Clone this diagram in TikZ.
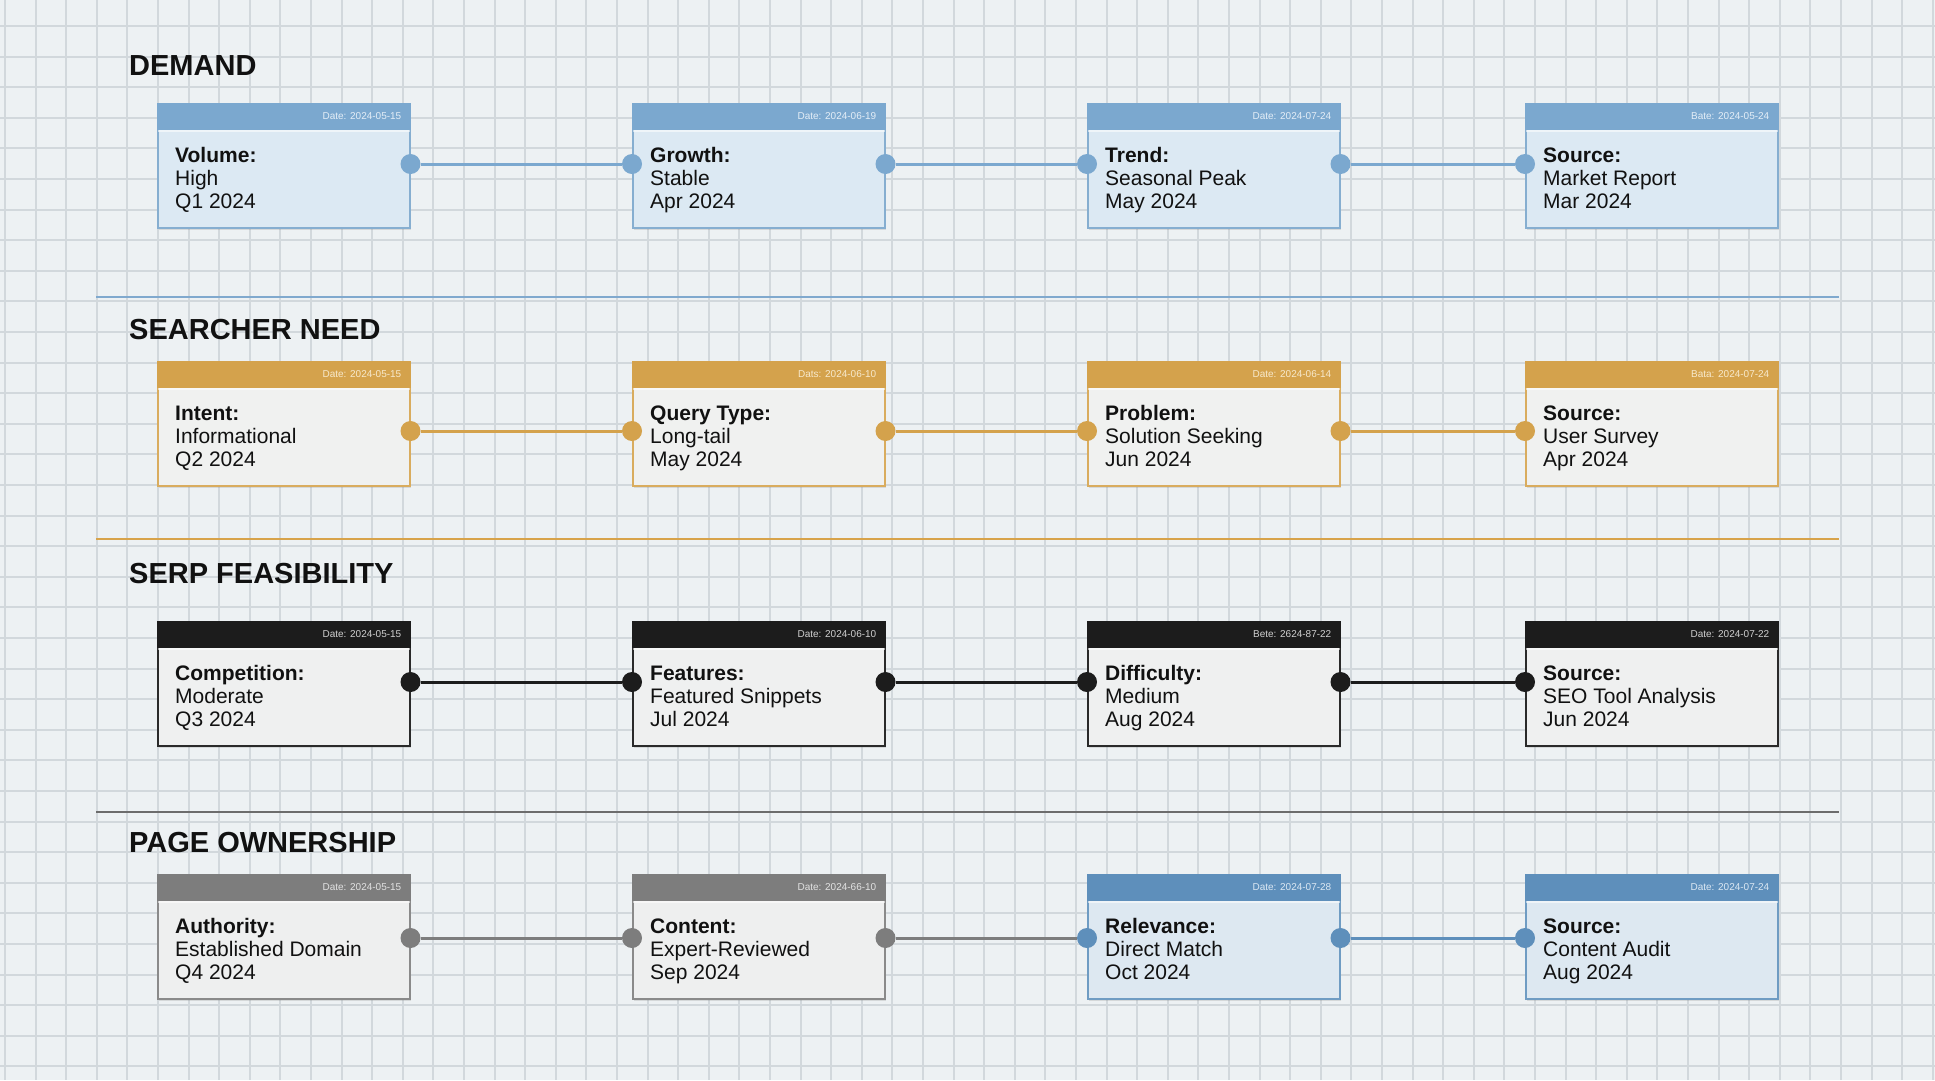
\documentclass[tikz,border=0pt]{standalone}
\usepackage{fontspec}
\setmainfont{Liberation Sans}
\usetikzlibrary{shadows,calc}
\definecolor{bgc}{HTML}{EDF1F3}
\definecolor{gridc}{HTML}{D2D8DC}
\definecolor{txtc}{HTML}{111111}
% themes
\definecolor{bluehdr}{HTML}{7BA8CF}
\definecolor{blueborder}{HTML}{86AED0}
\definecolor{bluebody}{HTML}{DCE9F3}
\definecolor{bluedate}{HTML}{E4EEF7}
\definecolor{orghdr}{HTML}{D4A24C}
\definecolor{orgborder}{HTML}{D9AC5E}
\definecolor{orgbody}{HTML}{F0F1F0}
\definecolor{orgdate}{HTML}{F7E9CC}
\definecolor{blkhdr}{HTML}{1C1C1C}
\definecolor{blkborder}{HTML}{2A2A2A}
\definecolor{blkbody}{HTML}{EFF0F0}
\definecolor{blkdate}{HTML}{D0D0D0}
\definecolor{gryhdr}{HTML}{7D7D7D}
\definecolor{gryborder}{HTML}{8A8A8A}
\definecolor{grybody}{HTML}{EEEFEF}
\definecolor{grydate}{HTML}{E2E2E2}
\definecolor{dbluehdr}{HTML}{5E8FBB}
\definecolor{dblueborder}{HTML}{6F9CC3}
\definecolor{dbluebody}{HTML}{DDE8F1}
\definecolor{dbluedate}{HTML}{DCE8F3}
\definecolor{sepblue}{HTML}{80A9CE}
\definecolor{seporg}{HTML}{D8A34A}
\definecolor{sepgry}{HTML}{6C6C6C}
\tikzset{
  gridline/.style={draw=gridc, line width=2pt},
  cardbody/.style={draw, line width=1.5pt, minimum width=252pt, minimum height=124pt,
    anchor=north west, inner sep=0pt,
    drop shadow={opacity=0.22, shadow xshift=1.5pt, shadow yshift=-2.5pt}},
  datetxt/.style={inner sep=0pt, anchor=east, font=\fontsize{10}{12}\selectfont},
  bodytxt/.style={inner sep=0pt, anchor=base west, text=txtc, font=\fontsize{21}{24}\selectfont},
  titletxt/.style={inner sep=0pt, anchor=base west, text=txtc, font=\fontsize{29}{34}\selectfont\bfseries},
  port/.style={circle, inner sep=0pt, minimum size=20pt, draw=none},
  conn/.style={line width=3pt},
  sepline/.style={line width=2.5pt},
}
\newcommand{\mkcard}[8]{%
  \node[cardbody, draw=#4border, fill=#4body] (#1) at (#2,#3) {};
  \fill[#4hdr] (#1.north west) rectangle ([yshift=-27pt]#1.north east);
  \draw[white, opacity=0.55, line width=1.5pt] ([yshift=-28pt,xshift=0.75pt]#1.north west) -- ([yshift=-28pt,xshift=-0.75pt]#1.north east);
  \node[datetxt, text=#4date] (#1-d) at ([xshift=-9pt,yshift=-13.5pt]#1.north east) {#5};
  \node[bodytxt] (#1-a) at ([xshift=18pt,yshift=-59pt]#1.north west) {\bfseries #6};
  \node[bodytxt] (#1-b) at ([xshift=18pt,yshift=-82.3pt]#1.north west) {#7};
  \node[bodytxt] (#1-c) at ([xshift=18pt,yshift=-105.6pt]#1.north west) {#8};
}
\begin{document}
\begin{tikzpicture}[x=1pt,y=-1pt]
\useasboundingbox (0,0) rectangle (1935,1080);
\fill[bgc] (0,0) rectangle (1935,1080);
\foreach \i in {0,...,63} \draw[gridline] ({round(5+30.6*\i)},0) -- ({round(5+30.6*\i)},1080);
\foreach \j in {0,...,34} \draw[gridline] (0,{round(26+30.6*\j)}) -- (1935,{round(26+30.6*\j)});

% titles
\node[titletxt] (t1) at (129,75) {DEMAND};
\node[titletxt] (t2) at (129,339) {SEARCHER NEED};
\node[titletxt] (t3) at (129,583.5) {SERP FEASIBILITY};
\node[titletxt] (t4) at (129,852.5) {PAGE OWNERSHIP};

% separators
\coordinate (s1a) at (96,297); \coordinate (s1b) at (1839,297);
\coordinate (s2a) at (96,539); \coordinate (s2b) at (1839,539);
\coordinate (s3a) at (96,812); \coordinate (s3b) at (1839,812);
\draw[sepline, sepblue] (s1a) -- (s1b);
\draw[sepline, seporg] (s2a) -- (s2b);
\draw[sepline, sepgry] (s3a) -- (s3b);

% row 1
\mkcard{b11}{157}{103}{blue}{Date: 2024-05-15}{Volume:}{High}{Q1 2024}
\mkcard{b12}{632}{103}{blue}{Date: 2024-06-19}{Growth:}{Stable}{Apr 2024}
\mkcard{b13}{1087}{103}{blue}{Date: 2024-07-24}{Trend:}{Seasonal Peak}{May 2024}
\mkcard{b14}{1525}{103}{blue}{Bate: 2024-05-24}{Source:}{Market Report}{Mar 2024}
% row 2
\mkcard{b21}{157}{361}{org}{Date: 2024-05-15}{Intent:}{Informational}{Q2 2024}
\mkcard{b22}{632}{361}{org}{Dats: 2024-06-10}{Query Type:}{Long-tail}{May 2024}
\mkcard{b23}{1087}{361}{org}{Date: 2024-06-14}{Problem:}{Solution Seeking}{Jun 2024}
\mkcard{b24}{1525}{361}{org}{Bata: 2024-07-24}{Source:}{User Survey}{Apr 2024}
% row 3
\mkcard{b31}{157}{621}{blk}{Date: 2024-05-15}{Competition:}{Moderate}{Q3 2024}
\mkcard{b32}{632}{621}{blk}{Date: 2024-06-10}{Features:}{Featured Snippets}{Jul 2024}
\mkcard{b33}{1087}{621}{blk}{Bete: 2624-87-22}{Difficulty:}{Medium}{Aug 2024}
\mkcard{b34}{1525}{621}{blk}{Date: 2024-07-22}{Source:}{SEO Tool Analysis}{Jun 2024}
% row 4
\mkcard{b41}{157}{874}{gry}{Date: 2024-05-15}{Authority:}{Established Domain}{Q4 2024}
\mkcard{b42}{632}{874}{gry}{Date: 2024-66-10}{Content:}{Expert-Reviewed}{Sep 2024}
\mkcard{b43}{1087}{874}{dblue}{Date: 2024-07-28}{Relevance:}{Direct Match}{Oct 2024}
\mkcard{b44}{1525}{874}{dblue}{Date: 2024-07-24}{Source:}{Content Audit}{Aug 2024}

% ports and connectors
% row 1
\foreach \a/\b/\n in {b11/b12/1, b12/b13/2, b13/b14/3}{
  \node[port, fill=bluehdr] (r1p\n r) at ([yshift=-61pt]\a.north east) {};
  \node[port, fill=bluehdr] (r1p\n l) at ([yshift=-61pt]\b.north west) {};
  \draw[conn, bluehdr] (r1p\n r) -- (r1p\n l);
}
% row 2
\foreach \a/\b/\n in {b21/b22/1, b22/b23/2, b23/b24/3}{
  \node[port, fill=orghdr] (r2p\n r) at ([yshift=-70pt]\a.north east) {};
  \node[port, fill=orghdr] (r2p\n l) at ([yshift=-70pt]\b.north west) {};
  \draw[conn, orghdr] (r2p\n r) -- (r2p\n l);
}
% row 3
\foreach \a/\b/\n in {b31/b32/1, b32/b33/2, b33/b34/3}{
  \node[port, fill=blkhdr] (r3p\n r) at ([yshift=-61pt]\a.north east) {};
  \node[port, fill=blkhdr] (r3p\n l) at ([yshift=-61pt]\b.north west) {};
  \draw[conn, blkhdr] (r3p\n r) -- (r3p\n l);
}
% row 4
\node[port, fill=gryhdr] (r4p1r) at ([yshift=-64pt]b41.north east) {};
\node[port, fill=gryhdr] (r4p1l) at ([yshift=-64pt]b42.north west) {};
\node[port, fill=gryhdr] (r4p2r) at ([yshift=-64pt]b42.north east) {};
\node[port, fill=dbluehdr] (r4p2l) at ([yshift=-64pt]b43.north west) {};
\node[port, fill=dbluehdr] (r4p3r) at ([yshift=-64pt]b43.north east) {};
\node[port, fill=dbluehdr] (r4p3l) at ([yshift=-64pt]b44.north west) {};
\draw[conn, gryhdr] (r4p1r) -- (r4p1l);
\draw[conn, gryhdr] (r4p2r) -- (r4p2l);
\draw[conn, dbluehdr] (r4p3r) -- (r4p3l);
\end{tikzpicture}
\end{document}
